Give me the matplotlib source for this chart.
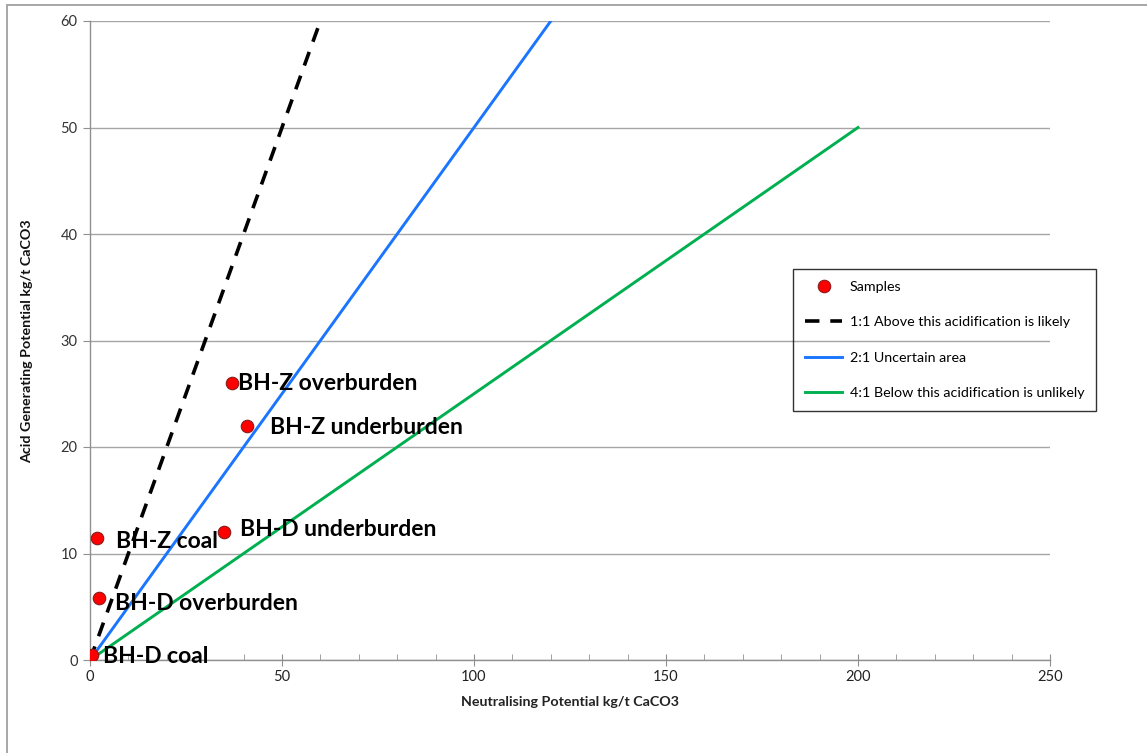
import matplotlib
matplotlib.use("Agg")
import matplotlib.pyplot as plt
from matplotlib.ticker import MultipleLocator
from matplotlib.patches import Rectangle

plt.rcParams['font.family'] = ['Lato', 'DejaVu Sans']

# Sample results
sample_names = ["BH-D coal", "BH-D overburden", "BH-Z coal",
                "BH-D underburden", "BH-Z overburden", "BH-Z underburden"]
sample_np = [0.5, 2.3, 1.8, 35.0, 37.0, 41.0]      # Neutralising potential
sample_agp = [0.5, 5.8, 11.5, 12.0, 26.0, 22.0]    # Acid generating potential

# Label offsets (points) for the sample annotations
label_offsets = [(8, -1), (12, -4), (14, -3), (11, 2), (4, 0), (16, -1)]

# Ratio reference lines
line_11_np = [0, 60]
line_11_agp = [0, 60]
line_21_np = [0, 120]
line_21_agp = [0, 60]
line_41_np = [0, 200]
line_41_agp = [0, 50]

x_ticks = [0, 50, 100, 150, 200, 250]
y_ticks = [0, 10, 20, 30, 40, 50, 60]

fig = plt.figure(figsize=(11.47, 7.53), dpi=100)
W, H = 1147, 753
ax = fig.add_axes([90 / W, 1 - 660 / H, 960 / W, 639 / H])

# outer chart frame
fig.patches.append(Rectangle((7 / W, -0.1), 1.2, 1 - 5 / H + 0.1,
                             transform=fig.transFigure, fill=False,
                             edgecolor='#a0a0a0', linewidth=1.3, zorder=0))

ax.set_xlim(0, 250)
ax.set_ylim(0, 60)
ax.set_xticks(x_ticks)
ax.set_yticks(y_ticks)
ax.xaxis.set_minor_locator(MultipleLocator(10))
ax.grid(axis='y', which='major', color='#a6a6a6', linewidth=1.0, zorder=0)

for side in ['top', 'right']:
    ax.spines[side].set_visible(False)
for side in ['left', 'bottom']:
    ax.spines[side].set_color('#909090')
    ax.spines[side].set_linewidth(1.0)

ax.tick_params(axis='y', which='major', direction='out', length=5,
               color='#909090', labelsize=10.5, labelcolor='#333333', pad=4)
ax.tick_params(axis='x', which='major', direction='inout', length=9,
               color='#909090', labelsize=10.5, labelcolor='#222222', pad=3)
ax.tick_params(axis='x', which='minor', direction='in', length=4,
               color='#909090')

h11, = ax.plot(line_11_np, line_11_agp, color='black', linewidth=2.6,
               dashes=(4, 3), label='1:1 Above this acidification is likely',
               zorder=3)
h21, = ax.plot(line_21_np, line_21_agp, color='#1A75FF', linewidth=2.1,
               label='2:1 Uncertain area', zorder=3)
h41, = ax.plot(line_41_np, line_41_agp, color='#00B050', linewidth=2.1,
               label='4:1 Below this acidification is unlikely', zorder=3)
hs, = ax.plot(sample_np, sample_agp, linestyle='none', marker='o',
              markersize=9, markerfacecolor='#FF0000',
              markeredgecolor='#8B1A1A', markeredgewidth=0.8,
              label='Samples', zorder=5)

for name, x, y, off in zip(sample_names, sample_np, sample_agp, label_offsets):
    ax.annotate(name, (x, y), xytext=off, textcoords='offset points',
                ha='left', va='center', fontsize=16.5, fontweight='bold',
                color='black', zorder=6)

ax.set_xlabel('Neutralising Potential kg/t CaCO3', fontsize=10.3,
              fontweight='bold', color='#222222', labelpad=8)
fig.text(27 / W, 1 - 341 / H, 'Acid Generating Potential kg/t CaCO3',
         rotation=90, ha='center', va='center', fontsize=10.3,
         fontweight='bold', color='#111111')

leg = ax.legend(handles=[hs, h11, h21, h41], loc='upper left',
                bbox_to_anchor=(793 / W, 1 - 269 / H),
                bbox_transform=fig.transFigure, frameon=True, fancybox=False,
                edgecolor='black', facecolor='none', framealpha=None,
                fontsize=10.3, handlelength=2.6, handletextpad=0.5,
                labelspacing=1.62, borderpad=0.85, borderaxespad=0)
leg.get_frame().set_linewidth(1.0)

fig.savefig('out.png', dpi=100)
